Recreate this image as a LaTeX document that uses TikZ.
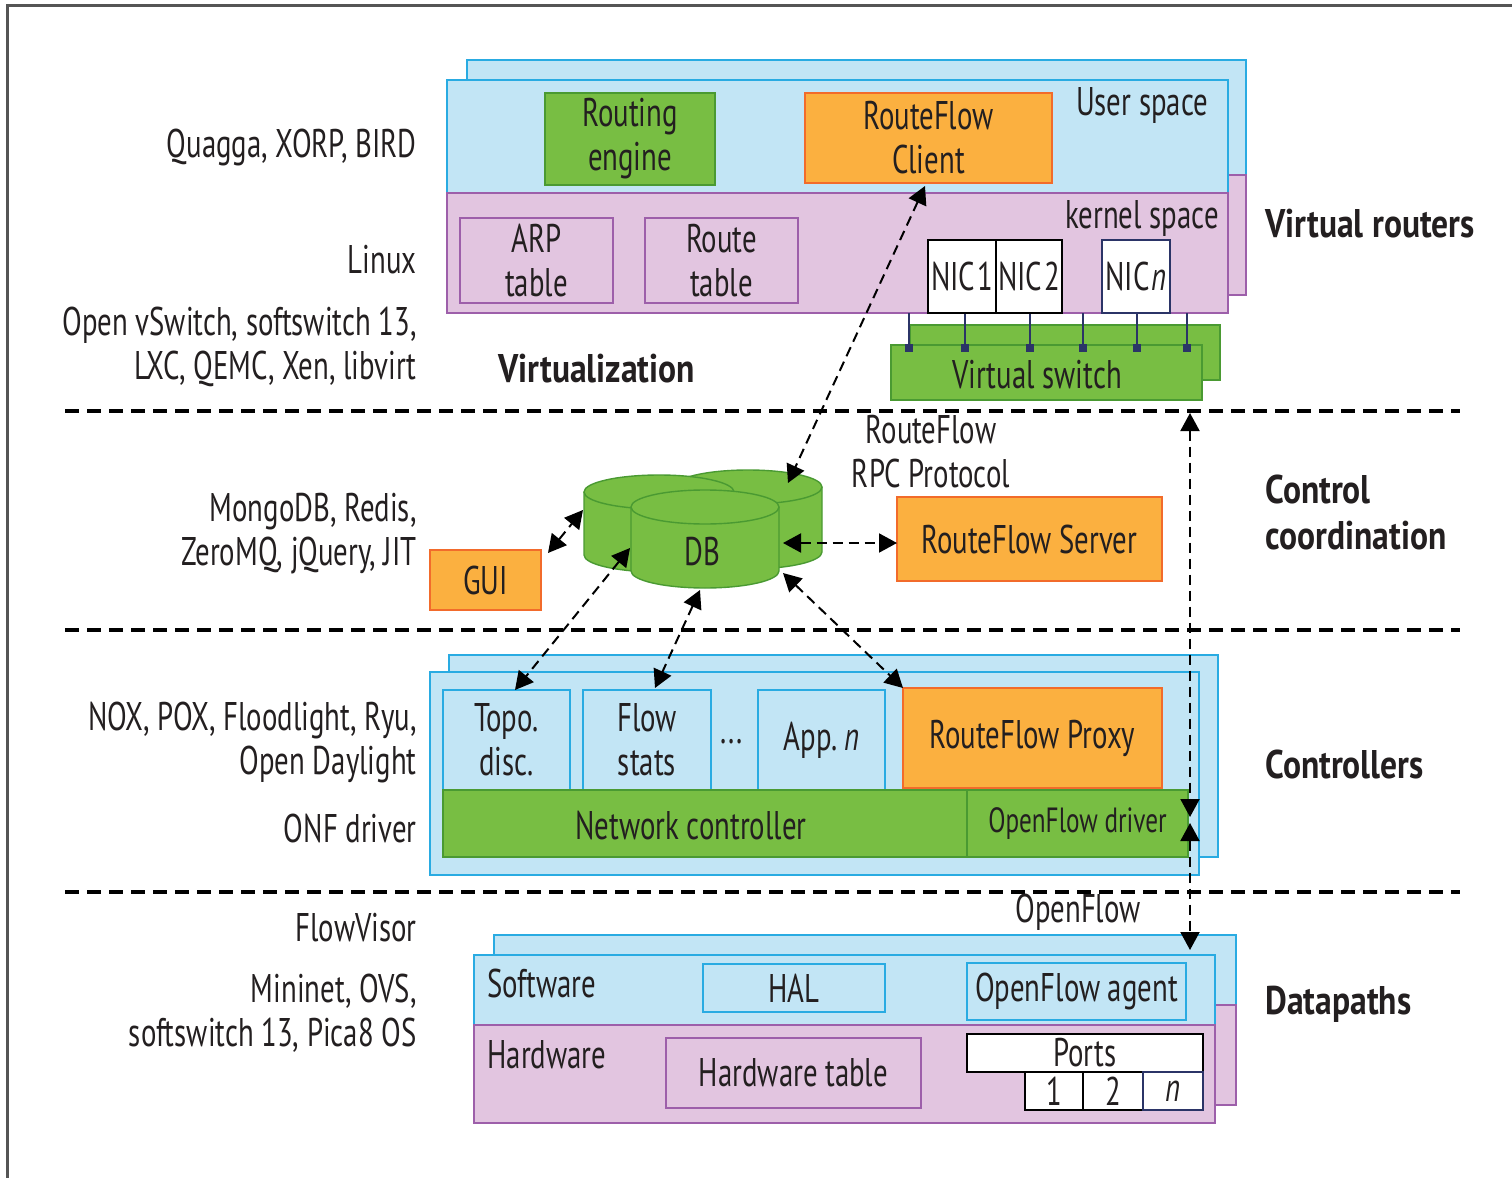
\documentclass[tikz,border=0pt]{standalone}
\usepackage{fontspec}
\setmainfont{PT Sans}[FakeStretch=0.72, BoldFeatures={FakeStretch=0.84}]
\usetikzlibrary{arrows.meta}
\definecolor{lblue}{HTML}{C2E5F5}
\definecolor{cyanb}{HTML}{29ABE2}
\definecolor{lpink}{HTML}{E2C5E0}
\definecolor{purpb}{HTML}{9D5FAA}
\definecolor{gfill}{HTML}{78BE43}
\definecolor{gline}{HTML}{4A9A32}
\definecolor{ofill}{HTML}{FBB040}
\definecolor{oline}{HTML}{F26B2B}
\definecolor{txt}{HTML}{231F20}
\definecolor{nav}{HTML}{2B3467}
\definecolor{frm}{HTML}{555555}
\newcommand\dbcyl[5]{%
  \fill[gfill] (#1-#4,#2) -- (#1-#4,#3) arc[start angle=180,end angle=0,x radius=#4,y radius=#5] -- (#1+#4,#2) -- cycle;
  \draw[gline, line width=.7pt] (#1-#4,#2) -- (#1-#4,#3) arc[start angle=180,end angle=0,x radius=#4,y radius=#5] -- (#1+#4,#2);
  \filldraw[fill=gfill, draw=gline, line width=.7pt] (#1,#2) ellipse[x radius=#4, y radius=#5];
}
% box: style, name, x1, y1, x2, y2, text
\newcommand\bx[7]{\node[#1, minimum width={(#5-#3)*0.5pt}, minimum height={(#6-#4)*0.5pt}] (#2) at ({(#3+#5)/2},{(#4+#6)/2}) {#7};}
\tikzset{
  fb/.style={inner sep=0pt, outer sep=0pt, align=center},
  bluebox/.style={fb, fill=lblue, draw=cyanb, line width=1.2pt},
  pinkbox/.style={fb, fill=lpink, draw=purpb, line width=1pt},
  greenbox/.style={fb, fill=gfill, draw=gline, line width=0.8pt},
  orangebox/.style={fb, fill=ofill, draw=oline, line width=0.8pt},
  whitebox/.style={fb, fill=white, draw=black, line width=1.2pt},
  leftlab/.style={anchor=east, align=right, inner sep=0pt},
  rightlab/.style={anchor=west, align=left, inner sep=0pt, font=\fontsize{20}{23}\selectfont\bfseries},
  sep/.style={line width=2pt, dash pattern=on 7pt off 4pt},
  dbl/.style={line width=1pt, dash pattern=on 5pt off 3pt, {Triangle[length=9pt,width=9.5pt]}-{Triangle[length=9pt,width=9.5pt]}},
  portline/.style={nav, line width=1pt},
}
\begin{document}
\begin{tikzpicture}[x=0.5pt,y=-0.5pt, every node/.style={text=txt, font=\fontsize{20}{22}\selectfont}]
\useasboundingbox (0,0) rectangle (1512,1178);
% frame
\draw[frm, line width=1.5pt] (7,1178) -- (7,5) -- (1512,5);

% separators
\draw[sep] (65,411) -- (1460,411);
\draw[sep] (65,630) -- (1460,630);
\draw[sep] (65,892) -- (1460,892);

% ---------- Virtual routers ----------
\path[fill=lblue, draw=cyanb, line width=1.2pt] (467,60) rectangle (1246,175);
\path[fill=lpink, draw=purpb, line width=1pt] (467,175) rectangle (1246,295);
\path[fill=lblue, draw=cyanb, line width=1.2pt] (447,80) rectangle (1228,193);
\path[fill=lpink, draw=purpb, line width=1pt] (447,193) rectangle (1228,313);
\bx{greenbox}{re}{545}{93}{715}{185}{Routing\\engine}
\bx{orangebox}{client}{805}{93}{1052}{183}{RouteFlow\\Client}
\node (us) at (1142,105) {User space};
\node (ks) at (1142,218) {kernel space};
\bx{pinkbox}{arp}{460}{218}{613}{303}{ARP\\table}
\bx{pinkbox}{rt}{645}{218}{798}{303}{Route\\table}
% virtual switch
\path[fill=gfill, draw=gline, line width=0.8pt] (910,325) rectangle (1220,380);
\path[fill=gfill, draw=gline, line width=0.8pt] (891,345) rectangle (1202,400);
% port lines
\foreach \px in {909,965,1030,1083,1137,1187}{
  \draw[portline] (\px,313) -- (\px,348);
  \fill[nav] (\px-4,344) rectangle (\px+4,352);
}
\node (vsw) at (1037,375) {Virtual switch};
\bx{whitebox}{nic1}{928}{240}{996}{313}{NIC\kern1pt1}
\bx{whitebox}{nic2}{996}{240}{1062}{313}{NIC\kern1pt2}
\bx{whitebox, draw=nav}{nicn}{1102}{240}{1170}{313}{NIC\kern1pt\textit{n}}

% ---------- Control coordination ----------
\dbcyl{748}{487}{552}{74}{17}
\dbcyl{659}{492}{555}{75}{17}
\dbcyl{705}{507}{571}{74}{17}
\node (db) at (702,552) {DB};
\bx{orangebox}{gui}{430}{550}{541}{610}{GUI}
\bx{orangebox}{server}{897}{497}{1162}{581}{RouteFlow Server}
\node[align=center] (rpc) at (931,452) {RouteFlow\\RPC Protocol};

% ---------- Controllers ----------
\path[fill=lblue, draw=cyanb, line width=1.2pt] (449,655) rectangle (1218,857);
\path[fill=lblue, draw=cyanb, line width=1.2pt] (430,672) rectangle (1199,875);
\bx{bluebox}{topo}{443}{690}{570}{790}{Topo.\\disc.}
\bx{bluebox}{flow}{583}{690}{711}{790}{Flow\\stats}
\node (dots) at (732,742) {...};
\bx{bluebox}{appn}{758}{690}{885}{790}{App.\,\textit{n}}
\bx{orangebox}{proxy}{903}{688}{1162}{788}{RouteFlow Proxy}
\bx{greenbox}{nc}{443}{790}{967}{857}{}
\node (nctext) at (691,826) {Network controller};
\bx{greenbox, font=\fontsize{17.5}{20}\selectfont}{ofd}{967}{790}{1188}{857}{OpenFlow driver}

% ---------- Datapaths ----------
\path[fill=lblue, draw=cyanb, line width=1.2pt] (494,935) rectangle (1236,1005);
\path[fill=lpink, draw=purpb, line width=1pt] (494,1005) rectangle (1236,1105);
\path[fill=lblue, draw=cyanb, line width=1.2pt] (474,955) rectangle (1215,1025);
\path[fill=lpink, draw=purpb, line width=1pt] (474,1025) rectangle (1215,1123);
\node[anchor=west, inner sep=0pt] (sw) at (487,983) {Software};
\node[anchor=west, inner sep=0pt] (hw) at (487,1055) {Hardware};
\bx{bluebox}{hal}{703}{964}{885}{1012}{HAL}
\bx{bluebox}{ofa}{967}{963}{1186}{1020}{OpenFlow agent}
\bx{pinkbox}{hwt}{666}{1038}{921}{1108}{Hardware table}
\bx{whitebox}{ports}{967}{1034}{1203}{1072}{Ports}
\bx{whitebox}{p1}{1025}{1072}{1083}{1110}{1}
\bx{whitebox}{p2}{1083}{1072}{1143}{1110}{2}
\bx{whitebox, draw=nav}{pn}{1143}{1072}{1203}{1110}{\textit{n}}
\node (of) at (1078,912) {OpenFlow};

% ---------- left labels ----------
\node[leftlab] (l1) at (417,147) {Quagga, XORP, BIRD};
\node[leftlab] (l2) at (417,260) {Linux};
\node[leftlab] (l3) at (417,347) {Open vSwitch, softswitch 13,\\LXC, QEMC, Xen, libvirt};
\node[leftlab] (l4) at (417,534) {MongoDB, Redis,\\ZeroMQ, jQuery, JIT};
\node[leftlab] (l5) at (417,742) {NOX, POX, Floodlight, Ryu,\\Open Daylight};
\node[leftlab] (l6) at (417,828) {ONF driver};
\node[leftlab] (l7) at (417,928) {FlowVisor};
\node[leftlab] (l8) at (417,1013) {Mininet, OVS,\\softswitch 13, Pica8 OS};
\node[rightlab] (virt) at (498,369) {Virtualization};

% ---------- right labels ----------
\node[rightlab] (r1) at (1265,224) {Virtual routers};
\node[rightlab] (r2) at (1265,512) {Control\\coordination};
\node[rightlab] (r3) at (1265,764) {Controllers};
\node[rightlab] (r4) at (1265,1004) {Datapaths};

% ---------- connectors ----------
\coordinate (dbC) at (788,483);
\coordinate (dbG) at (583,510);
\coordinate (guiE) at (548,553);
\coordinate (dbS) at (783,543);
\coordinate (dbT) at (630,548);
\coordinate (topoE) at (515,690);
\coordinate (dbF) at (700,590);
\coordinate (flowE) at (655,688);
\coordinate (dbP) at (783,573);
\coordinate (clientE) at (925,186);
\coordinate (vswE) at (1190,413);
\coordinate (ofdA) at (1190,817);
\coordinate (ofdB) at (1190,823);
\coordinate (ofaE) at (1190,950);
\draw[dbl] (clientE) -- (dbC);
\draw[dbl] (guiE) -- (dbG);
\draw[dbl] (dbS) -- (dbS -| server.west);
\draw[dbl] (dbT) -- (topoE);
\draw[dbl] (dbF) -- (flowE);
\draw[dbl] (dbP) -- (proxy.north west);
\draw[dbl] (vswE) -- (ofdA);
\draw[dbl] (ofdB) -- (ofaE);
\end{tikzpicture}
\end{document}
